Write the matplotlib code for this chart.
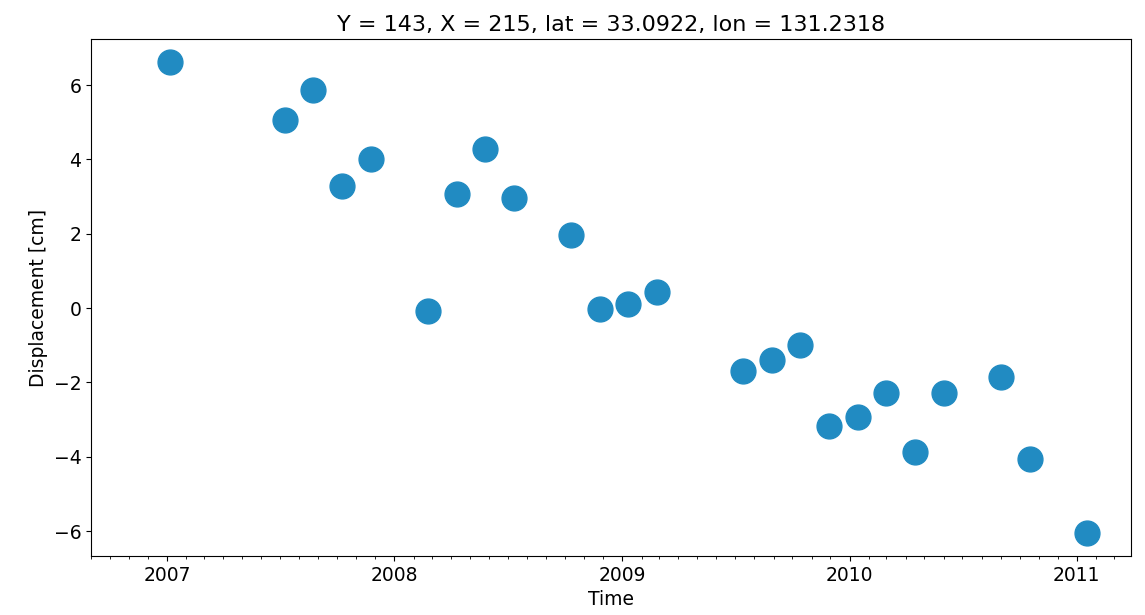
import numpy as np
import matplotlib
matplotlib.use('Agg')
from matplotlib import pyplot as plt
import matplotlib.dates as mdates

# %% data
dates = np.array(['2007-01-06', '2007-07-09', '2007-08-24', '2007-10-09',
                  '2007-11-24', '2008-02-24', '2008-04-10', '2008-05-26',
                  '2008-07-11', '2008-10-11', '2008-11-26', '2009-01-11',
                  '2009-02-26', '2009-07-14', '2009-08-29', '2009-10-14',
                  '2009-11-29', '2010-01-14', '2010-03-01', '2010-04-16',
                  '2010-06-01', '2010-09-01', '2010-10-17', '2011-01-17'],
                 dtype='datetime64[D]')
disp = np.array([6.62, 5.06, 5.87, 3.28, 4.01, -0.08, 3.07, 4.28, 2.96, 1.96,
                 -0.03, 0.11, 0.43, -1.69, -1.40, -1.00, -3.17, -2.93, -2.29,
                 -3.87, -2.29, -1.86, -4.06, -6.05])

# %% plot
fig = plt.figure(figsize=(11.45, 6.15), dpi=100)
ax = fig.add_axes([0.0795, 0.0959, 0.9083, 0.8407])
ax.scatter(dates.astype('datetime64[ms]').astype(object), disp, s=320,
           color='#218bc2')
ax.set_xlim(np.datetime64('2006-09-01').astype(object),
            np.datetime64('2011-03-29').astype(object))
ax.set_ylim(-6.67, 7.24)
ax.xaxis.set_major_locator(mdates.YearLocator())
ax.xaxis.set_major_formatter(mdates.DateFormatter('%Y'))
ax.xaxis.set_minor_locator(mdates.MonthLocator())
ax.tick_params(labelsize=13.5)
ax.set_xlabel('Time', fontsize=13.5)
ax.set_ylabel('Displacement [cm]', fontsize=13.5)
ax.set_title('Y = 143, X = 215, lat = 33.0922, lon = 131.2318', fontsize=16)
fig.savefig('out.png', dpi=100)
